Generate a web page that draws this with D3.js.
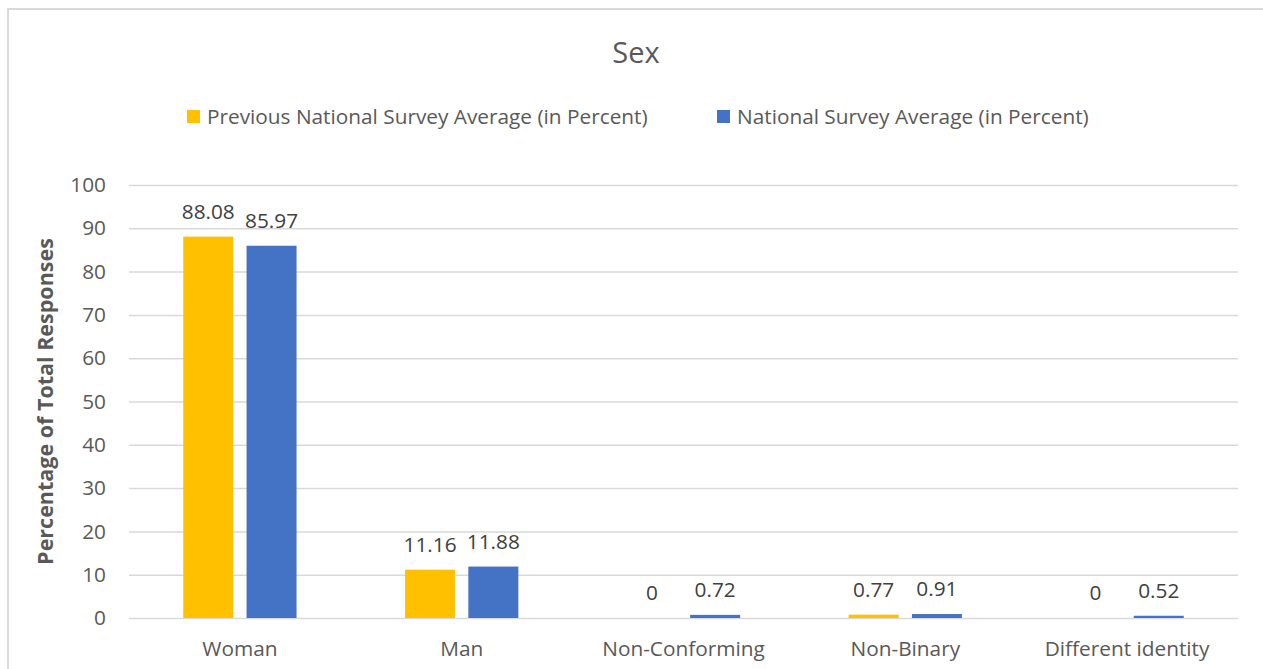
<!DOCTYPE html>
<html>
<head>
<meta charset="utf-8">
<script src="https://cdn.jsdelivr.net/npm/d3@7"></script>
<style>
  body { margin: 0; background: #fff; }
  svg text { font-family: "Open Sans", sans-serif; fill: #595959; }
</style>
</head>
<body>
<svg id="chart"></svg>
<script>
// Chart data
const categories = ['Woman', 'Man', 'Non-Conforming', 'Non-Binary', 'Different identity'];
const seriesNames = ['Previous National Survey Average (in Percent)', 'National Survey Average (in Percent)'];
const previousValues = [88.08, 11.16, 0, 0.77, 0];
const currentValues = [85.97, 11.88, 0.72, 0.91, 0.52];
const yTicks = [0, 10, 20, 30, 40, 50, 60, 70, 80, 90, 100];
const colors = ['#ffc000', '#4472c4'];

const width = 1263, height = 669;
const margin = {top: 185, right: 25, bottom: 51, left: 129};
const fs = 20.8;

const svg = d3.select('#chart')
    .attr('width', width)
    .attr('height', height);

// chart border (runs off the right and bottom edges)
svg.append('rect')
    .attr('x', 8).attr('y', 9)
    .attr('width', 1300).attr('height', 700)
    .attr('fill', 'none')
    .attr('stroke', '#d9d9d9')
    .attr('stroke-width', 2);

const innerW = width - margin.left - margin.right;
const innerH = height - margin.top - margin.bottom;

const chart = svg.append('g')
    .attr('transform', `translate(${margin.left},${margin.top})`);

const x0 = d3.scaleBand().domain(categories).range([0, innerW]);
const x1 = d3.scaleBand().domain([0, 1]).range([0, x0.bandwidth()])
    .paddingInner(0.21).paddingOuter(0.857);
const y = d3.scaleLinear().domain([0, 100]).range([innerH, 0]);

// gridlines + tick labels
const yAxis = d3.axisLeft(y)
    .tickValues(yTicks)
    .tickSize(-innerW)
    .tickPadding(23);

chart.append('g')
    .call(yAxis)
    .call(g => g.select('.domain').remove())
    .call(g => g.selectAll('.tick line').attr('stroke', '#d9d9d9').attr('stroke-width', 1.5))
    .call(g => g.selectAll('.tick text')
        .attr('font-size', fs).attr('fill', '#595959')
        .style('font-family', '"Open Sans", sans-serif'));

// category axis
chart.append('g')
    .attr('transform', `translate(0,${innerH})`)
    .call(d3.axisBottom(x0).tickSize(0).tickPadding(23))
    .call(g => g.select('.domain').remove())
    .call(g => g.selectAll('.tick text')
        .attr('font-size', fs).attr('fill', '#595959')
        .style('font-family', '"Open Sans", sans-serif'));

const rows = categories.map((c, i) => ({cat: c, vals: [previousValues[i], currentValues[i]]}));

const groups = chart.selectAll('.group')
    .data(rows)
  .join('g')
    .attr('class', 'group')
    .attr('transform', d => `translate(${x0(d.cat)},0)`);

groups.selectAll('rect')
    .data(d => d.vals.map((v, s) => ({v, s})))
  .join('rect')
    .attr('x', d => x1(d.s))
    .attr('width', x1.bandwidth())
    .attr('y', d => y(d.v))
    .attr('height', d => innerH - y(d.v))
    .attr('fill', d => colors[d.s]);

groups.selectAll('.label')
    .data(d => d.vals.map((v, s) => ({v, s})))
  .join('text')
    .attr('class', 'label')
    .attr('x', d => x1(d.s) + x1.bandwidth() / 2)
    .attr('y', d => y(d.v) - 18)
    .attr('text-anchor', 'middle')
    .attr('font-size', fs)
    .style('fill', '#404040')
    .text(d => d.v);

// title
svg.append('text')
    .attr('x', 636).attr('y', 63)
    .attr('text-anchor', 'middle')
    .attr('font-size', 29)
    .text('Sex');

// legend
const legendX = [187, 717];
const legend = svg.selectAll('.legend')
    .data(seriesNames)
  .join('g')
    .attr('class', 'legend')
    .attr('transform', (d, i) => `translate(${legendX[i]},110)`);
legend.append('rect')
    .attr('width', 13).attr('height', 13)
    .attr('fill', (d, i) => colors[i]);
legend.append('text')
    .attr('x', 20).attr('y', 14)
    .attr('font-size', fs)
    .text(d => d);

// y axis title
svg.append('text')
    .attr('transform', `translate(53,${margin.top + innerH / 2}) rotate(-90)`)
    .attr('text-anchor', 'middle')
    .attr('font-size', 21.5)
    .attr('font-weight', 'bold')
    .text('Percentage of Total Responses');
</script>
</body>
</html>
